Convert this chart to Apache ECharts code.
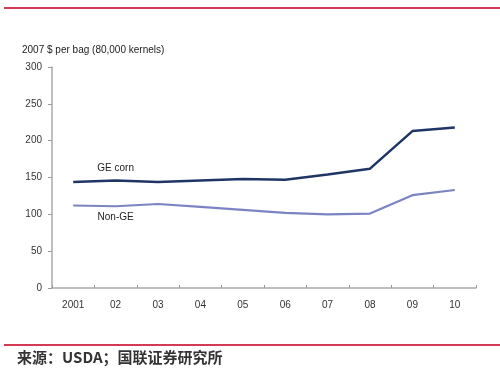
<!DOCTYPE html>
<html><head><meta charset="utf-8">
<script src="https://cdn.jsdelivr.net/npm/echarts@6/dist/echarts.min.js"></script>
<style>html,body{margin:0;padding:0;background:#fff}#c{width:500px;height:379px}</style>
</head><body><div id="c"></div>
<script>
const categories = ['2001','02','03','04','05','06','07','08','09','10'];
const geCorn = [144, 146, 144, 146, 148, 147, 154, 162, 213, 218];
const nonGE = [112, 111, 114, 110, 106, 102, 100, 101, 126, 133];
const yTitle = '2007 $ per bag (80,000 kernels)';
const source = '来源：USDA；国联证券研究所';

const chart = echarts.init(document.getElementById('c'));
const lbl = (i, name, pos, dist) => (v, idx) => idx === i ? {value: v, label: {show: true, position: pos, distance: dist, formatter: name, color: '#222', fontSize: 10, fontFamily: 'Liberation Sans'}} : v;
chart.setOption({
  animation: false,
  grid: {left: 52, right: 24, top: 67, bottom: 91},
  xAxis: {
    type: 'category', data: categories, boundaryGap: true,
    axisLine: {lineStyle: {color: '#aaa', width: 1.5}},
    axisTick: {show: true, inside: true, length: 3, lineStyle: {color: '#999'}},
    axisLabel: {color: '#333', fontSize: 10, margin: 12, fontFamily: 'Liberation Sans'}
  },
  yAxis: {
    type: 'value', min: 0, max: 300, interval: 50,
    name: yTitle, nameLocation: 'end', nameGap: 12,
    nameTextStyle: {align: 'left', padding: [0, 0, 0, -30], color: '#222', fontSize: 10, fontFamily: 'Liberation Sans'},
    axisLine: {show: true, lineStyle: {color: '#aaa', width: 1.5}},
    axisTick: {show: true, length: 4, lineStyle: {color: '#999'}},
    splitLine: {show: false},
    axisLabel: {color: '#333', fontSize: 10, margin: 10, fontFamily: 'Liberation Sans'}
  },
  series: [
    {type: 'line', data: geCorn.map(lbl(1, 'GE corn', 'top', 7)), symbol: 'circle', symbolSize: 0, showSymbol: true,
     lineStyle: {color: '#1e3566', width: 2.5}, itemStyle: {color: '#1e3566'}},
    {type: 'line', data: nonGE.map(lbl(1, 'Non-GE', 'bottom', 6)), symbol: 'circle', symbolSize: 0, showSymbol: true,
     lineStyle: {color: '#7a84c2', width: 2.2}, itemStyle: {color: '#7a84c2'}}
  ],
  graphic: [
    {type: 'line', shape: {x1: 4, y1: 8, x2: 500, y2: 8}, style: {stroke: '#d23a55', lineWidth: 2}},
    {type: 'line', shape: {x1: 4, y1: 345, x2: 500, y2: 345}, style: {stroke: '#d23a55', lineWidth: 2}},
    {type: 'text', left: 17, top: 350, style: {text: source, fill: '#333', font: 'bold 15px "Noto Sans CJK SC"'}}
  ]
});
</script></body></html>
